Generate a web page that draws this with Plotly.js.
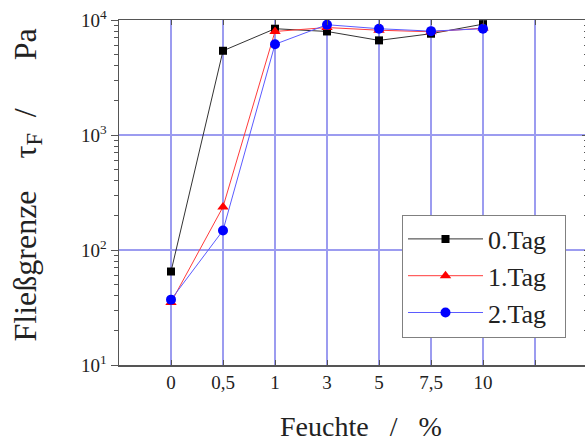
<!DOCTYPE html>
<html>
<head>
<meta charset="utf-8">
<script src="https://cdn.plot.ly/plotly-3.0.1.min.js"></script>
<style>
html,body{margin:0;padding:0;overflow:hidden;background:#fff;}
#chart{width:590px;height:441px;}
</style>
</head>
<body>
<div id="chart"></div>
<script>
const categories = ["0", "0,5", "1", "3", "5", "7,5", "10"];
const tag0 = [65, 5400, 8400, 7950, 6650, 7600, 9200];
const tag1 = [35, 237, 7950, 8600, 8150, 7900, 8500];
const tag2 = [37, 148, 6150, 9100, 8400, 8000, 8400];
const seriesNames = ["0.Tag", "1.Tag", "2.Tag"];
const xTickVals = [0, 1, 2, 3, 4, 5, 6, 7];
const xTickText = ["0", "0,5", "1", "3", "5", "7,5", "10", ""];
const yTickVals = [10, 100, 1000, 10000];
const yTickText = ["10<sup>1</sup>", "10<sup>2</sup>", "10<sup>3</sup>", "10<sup>4</sup>"];

const xs = categories.map((c, i) => i);
const serif = "Times New Roman";
const pad = "\u00a0\u00a0";

const traces = [
  {x: xs, y: tag0, name: seriesNames[0] + pad, mode: "lines+markers",
   line: {color: "#333333", width: 1},
   marker: {symbol: "square", size: 8, color: "#000000"}},
  {x: xs, y: tag1, name: seriesNames[1] + pad, mode: "lines+markers",
   line: {color: "#ff3b3b", width: 1},
   marker: {symbol: "triangle-up", size: 10, color: "#ff0000"}},
  {x: xs, y: tag2, name: seriesNames[2] + pad, mode: "lines+markers",
   line: {color: "#5b5bff", width: 1},
   marker: {symbol: "circle", size: 10, color: "#0000ff"}},
  {x: [0], y: [10], yaxis: "y2", mode: "markers", showlegend: false,
   hoverinfo: "skip", marker: {opacity: 0}}
];

const axisColor = "#555555";
const gridColor = "#9c9cf0";

const layout = {
  width: 590, height: 441,
  margin: {l: 119, r: 3, t: 20, b: 76},
  paper_bgcolor: "#ffffff", plot_bgcolor: "#ffffff",
  font: {family: serif, color: "#222222"},
  showlegend: true,
  legend: {
    x: (402 - 119) / 468, y: (365.5 - 215) / 345, xanchor: "left", yanchor: "top",
    bgcolor: "#ffffff", bordercolor: "#808080", borderwidth: 1,
    font: {family: serif, size: 26, color: "#222222"},
    itemwidth: 75
  },
  xaxis: {
    range: [-1, 8], tickmode: "array", tickvals: xTickVals, ticktext: xTickText,
    showgrid: true, gridcolor: gridColor, gridwidth: 1.5,
    zeroline: false, showline: true, linecolor: axisColor, linewidth: 1.5,
    mirror: "ticks", ticks: "inside", ticklen: 5, tickcolor: axisColor, tickwidth: 1,
    tickfont: {family: serif, size: 19, color: "#222222"}
  },
  yaxis: {
    type: "log", range: [1, 4], tickmode: "array", tickvals: yTickVals, ticktext: yTickText,
    showgrid: true, gridcolor: gridColor, gridwidth: 1.5,
    zeroline: false, showline: true, linecolor: axisColor, linewidth: 1.5,
    ticks: "outside", ticklen: 7, tickcolor: axisColor, tickwidth: 1,
    minor: {dtick: "D1", ticks: "outside", ticklen: 4, tickcolor: axisColor, tickwidth: 1, showgrid: false},
    tickfont: {family: serif, size: 19, color: "#222222"}
  },
  yaxis2: {
    type: "log", range: [1, 4], overlaying: "y", side: "right",
    tickmode: "array", tickvals: yTickVals, ticktext: ["", "", "", ""], showticklabels: false,
    showgrid: false, zeroline: false, showline: true, linecolor: axisColor, linewidth: 1.5,
    ticks: "inside", ticklen: 5, tickcolor: axisColor, tickwidth: 1,
    minor: {dtick: "D1", ticks: "inside", ticklen: 3, tickcolor: axisColor, tickwidth: 1, showgrid: false}
  },
  annotations: [
    {text: "Fließgrenze\u00a0\u00a0\u00a0\u00a0τ<sub>F</sub>\u00a0\u00a0/\u00a0\u00a0\u00a0\u00a0\u00a0\u00a0Pa",
     xref: "paper", yref: "paper", x: (27 - 119) / 468, y: (365.5 - 186) / 345,
     xanchor: "center", yanchor: "middle", textangle: -90, showarrow: false,
     font: {family: serif, size: 32, color: "#222222"}},
    {text: "Feuchte\u00a0\u00a0\u00a0/\u00a0\u00a0\u00a0%",
     xref: "paper", yref: "paper", x: (361 - 119) / 468, y: (365.5 - 427) / 345,
     xanchor: "center", yanchor: "middle", showarrow: false,
     font: {family: serif, size: 28, color: "#222222"}}
  ]
};

Plotly.newPlot("chart", traces, layout, {displayModeBar: false, staticPlot: true});
</script>
</body>
</html>
